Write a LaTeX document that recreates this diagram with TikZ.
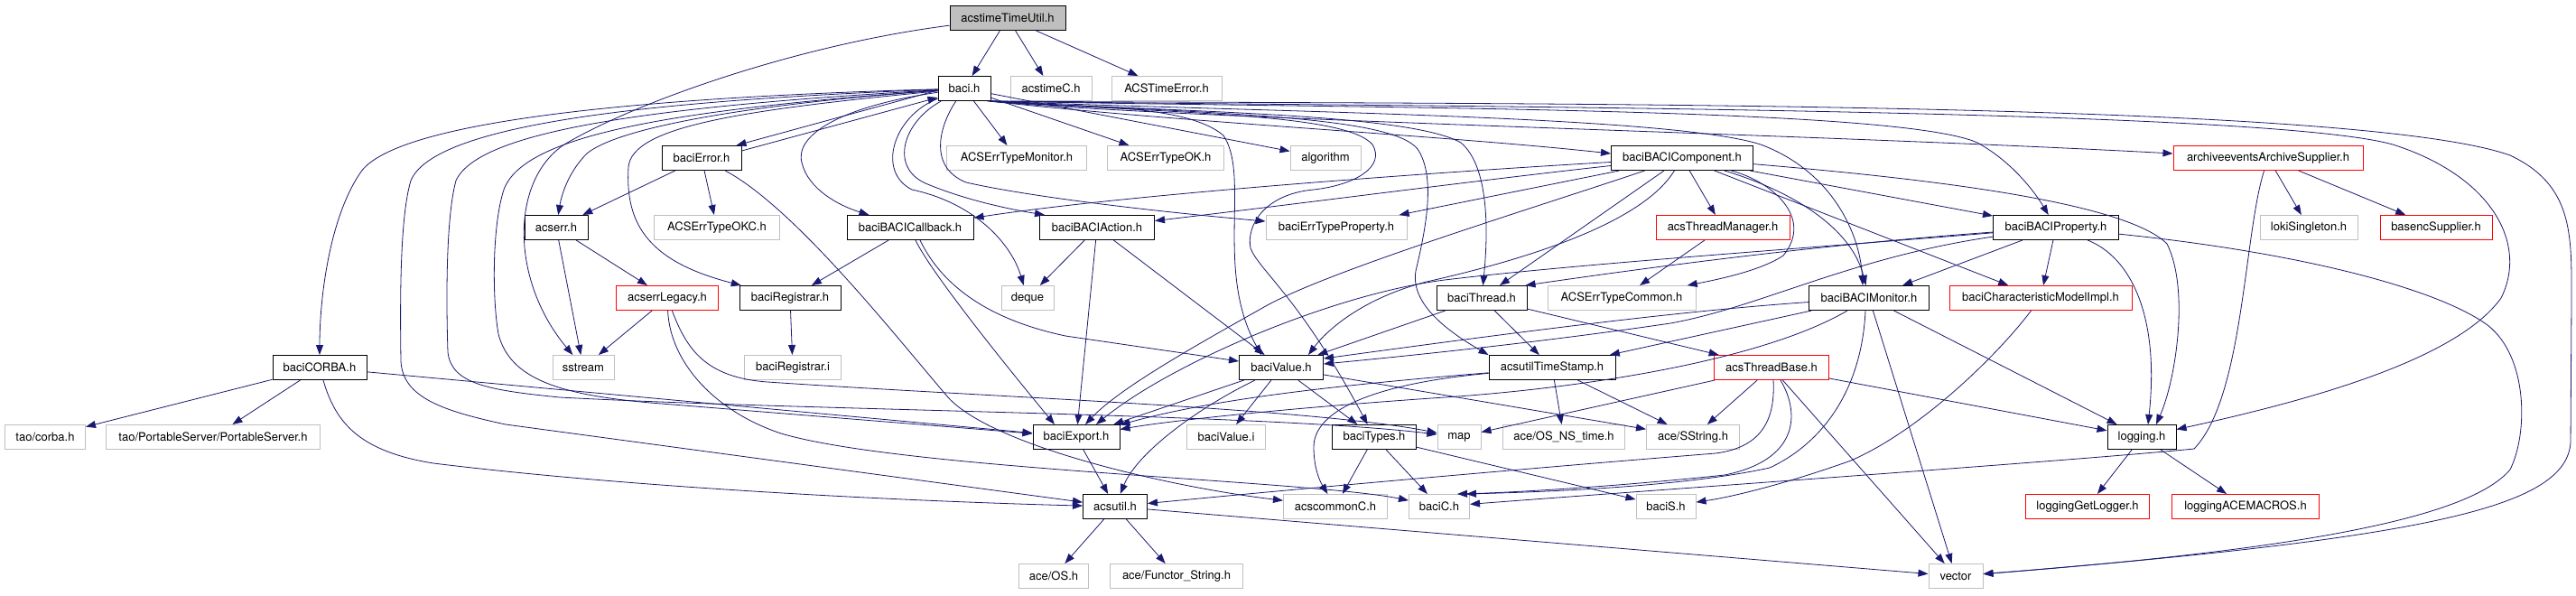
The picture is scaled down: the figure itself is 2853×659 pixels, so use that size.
\documentclass[tikz,border=0pt]{standalone}
\usepackage{fontspec}
\setmainfont{TeX Gyre Heros}
\usetikzlibrary{arrows.meta}
\definecolor{eb}{HTML}{191970}
\definecolor{gb}{HTML}{BFBFBF}
\begin{document}
\begin{tikzpicture}[x=1pt,y=-1pt,
  box/.style={draw=black, line width=1pt, fill=white, minimum height=27pt, inner sep=0pt, font=\fontsize{13}{15}\selectfont, text=black},
  ext/.style={box, draw=gb},
  trunc/.style={box, draw=red},
  e/.style={draw=eb, line width=0.8pt, -{Triangle[length=11pt,width=8pt]}},
]
\useasboundingbox[fill=white] (0,0) rectangle (2853,659);
% nodes
\node[box,fill=gb,minimum width=128pt] (root) at (1116,20) {acstimeTimeUtil.h};
\node[box,minimum width=58pt] (bacih) at (1068,98) {baci.h};
\node[ext,minimum width=90pt] (acstimeC) at (1164,98) {acstimeC.h};
\node[ext,minimum width=122pt] (ACSTimeError) at (1292,98) {ACSTimeError.h};
\node[box,minimum width=88pt] (baciError) at (777,175) {baciError.h};
\node[ext,minimum width=155pt] (ACSErrTypeMonitor) at (1126,175) {ACSErrTypeMonitor.h};
\node[ext,minimum width=129pt] (ACSErrTypeOK) at (1291,175) {ACSErrTypeOK.h};
\node[ext,minimum width=78pt] (algorithm) at (1468,175) {algorithm};
\node[box,minimum width=157pt] (baciBACIComponent) at (1863,175) {baciBACIComponent.h};
\node[trunc,minimum width=210pt] (archive) at (2512,175) {archiveeventsArchiveSupplier.h};
\node[box,minimum width=70pt] (acserr) at (616,252) {acserr.h};
\node[ext,minimum width=139pt] (ACSErrTypeOKC) at (794,252) {ACSErrTypeOKC.h};
\node[box,minimum width=140pt] (baciBACICallback) at (1008,252) {baciBACICallback.h};
\node[box,minimum width=127pt] (baciBACIAction) at (1215,252) {baciBACIAction.h};
\node[ext,minimum width=156pt] (baciErrTypeProperty) at (1480,252) {baciErrTypeProperty.h};
\node[trunc,minimum width=148pt] (acsThreadManager) at (1908,252) {acsThreadManager.h};
\node[box,minimum width=139pt] (baciBACIProperty) at (2277,252) {baciBACIProperty.h};
\node[ext,minimum width=108pt] (lokiSingleton) at (2557,252) {lokiSingleton.h};
\node[trunc,minimum width=124pt] (basencSupplier) at (2698,252) {basencSupplier.h};
\node[trunc,minimum width=113pt] (acserrLegacy) at (739,330) {acserrLegacy.h};
\node[box,minimum width=112pt] (baciRegistrar) at (875,330) {baciRegistrar.h};
\node[ext,minimum width=58pt] (deque) at (1138,330) {deque};
\node[box,minimum width=100pt] (baciThread) at (1641,330) {baciThread.h};
\node[ext,minimum width=164pt] (ACSErrTypeCommon) at (1796,330) {ACSErrTypeCommon.h};
\node[box,minimum width=133pt] (baciBACIMonitor) at (2070,330) {baciBACIMonitor.h};
\node[trunc,minimum width=202pt] (baciCharModel) at (2260,330) {baciCharacteristicModelImpl.h};
\node[box,minimum width=104pt] (baciCORBA) at (354,407) {baciCORBA.h};
\node[ext,minimum width=68pt] (sstream) at (646,407) {sstream};
\node[ext,minimum width=107pt] (baciRegistrari) at (878,407) {baciRegistrar.i};
\node[box,minimum width=93pt] (baciValue) at (1419,407) {baciValue.h};
\node[box,minimum width=140pt] (acsutilTimeStamp) at (1719,407) {acsutilTimeStamp.h};
\node[trunc,minimum width=127pt] (acsThreadBase) at (1962,407) {acsThreadBase.h};
\node[ext,minimum width=89pt] (taocorba) at (50,484) {tao/corba.h};
\node[ext,minimum width=237pt] (taoPS) at (236,484) {tao/PortableServer/PortableServer.h};
\node[box,minimum width=96pt] (baciExport) at (1192,484) {baciExport.h};
\node[ext,minimum width=87pt] (baciValuei) at (1358,484) {baciValue.i};
\node[box,minimum width=93pt] (baciTypes) at (1522,484) {baciTypes.h};
\node[ext,minimum width=48pt] (map) at (1616,484) {map};
\node[ext,minimum width=135pt] (aceOSNStime) at (1732,484) {ace/OS\_NS\_time.h};
\node[ext,minimum width=103pt] (aceSString) at (1875,484) {ace/SString.h};
\node[box,minimum width=76pt] (logging) at (2372,484) {logging.h};
\node[box,minimum width=71pt] (acsutil) at (1235,561) {acsutil.h};
\node[ext,minimum width=115pt] (acscommonC) at (1479,561) {acscommonC.h};
\node[ext,minimum width=67pt] (baciC) at (1594,561) {baciC.h};
\node[ext,minimum width=66pt] (baciS) at (1845,561) {baciS.h};
\node[trunc,minimum width=137pt] (loggingGetLogger) at (2312,561) {loggingGetLogger.h};
\node[trunc,minimum width=163pt] (loggingACEMACROS) at (2487,561) {loggingACEMACROS.h};
\node[ext,minimum width=77pt] (aceOS) at (1167,638) {ace/OS.h};
\node[ext,minimum width=147pt] (aceFunctor) at (1303,638) {ace/Functor\_String.h};
\node[ext,minimum width=60pt] (vector) at (2166,638) {vector};

% root
\draw[e] (root) -- (bacih);
\draw[e] (root) -- (acstimeC);
\draw[e] (root) -- (ACSTimeError);
\draw[e] (root) .. controls (880,50) and (700,115) .. (625,160) .. controls (565,200) and (565,310) .. (sstream);

% baci.h, left side
\draw[e] (bacih) .. controls (700,108) and (440,135) .. (400,190) .. controls (365,240) and (354,330) .. (baciCORBA);
\draw[e] (bacih) .. controls (700,112) and (480,140) .. (455,200) .. controls (443,240) and (443,330) .. (444,400) .. controls (446,440) and (490,455) .. (560,470) -- (acsutil);
\draw[e] (bacih) .. controls (720,118) and (530,145) .. (505,200) .. controls (494,240) and (494,330) .. (496,390) .. controls (500,425) and (540,432) .. (620,440) .. controls (900,455) and (1400,458) .. (map);
\draw[e] (bacih) .. controls (740,122) and (580,150) .. (558,210) .. controls (545,250) and (545,330) .. (552,370) .. controls (565,420) and (620,437) .. (720,446) -- (baciExport);
\draw[e] (bacih) .. controls (800,118) and (680,145) .. (650,170) .. controls (630,190) and (622,215) .. (acserr);
\draw[e] (bacih) .. controls (820,122) and (700,140) .. (696,185) .. controls (692,250) and (720,290) .. (baciRegistrar);
\draw[e] ([yshift=-2pt]bacih.west) -- ([xshift=-6pt]baciError.north east);
\draw[e] ([yshift=8pt]baciError.east) -- ([yshift=-10pt]bacih.west);
\draw[e] (bacih) .. controls (930,118) and (880,150) .. (888,180) .. controls (895,210) and (930,228) .. (baciBACICallback);
\draw[e] (bacih) .. controls (990,128) and (970,190) .. (1010,210) .. controls (1080,225) and (1120,270) .. (deque);
\draw[e] (bacih) .. controls (1000,135) and (985,185) .. (1025,203) .. controls (1070,222) and (1120,232) .. ([xshift=6pt]baciBACIAction.north west);
\draw[e] (bacih) .. controls (1040,140) and (1028,185) .. (1070,202) .. controls (1150,220) and (1300,236) .. (baciErrTypeProperty);
\draw[e] (bacih) -- (ACSErrTypeMonitor);
\draw[e] (bacih) -- (ACSErrTypeOK);
\draw[e] (bacih) -- (algorithm);

% baci.h, right side (all leave from the lower right corner, below acstimeC.h)
\draw[e] ([xshift=-1pt]bacih.south east) .. controls (1300,135) and (1600,150) .. ([yshift=5pt]baciBACIComponent.west);
\draw[e] ([xshift=-2pt]bacih.south east) .. controls (1300,124) and (1560,125) .. (1618,158) .. controls (1650,185) and (1648,260) .. (baciThread);
\draw[e] ([xshift=-4pt]bacih.south east) .. controls (1180,120) and (1310,112) .. (1355,150) .. controls (1385,195) and (1345,300) .. ([xshift=-22pt]baciValue.north);
\draw[e] ([xshift=-1pt]bacih.south east) .. controls (1300,126) and (1490,125) .. (1520,160) .. controls (1535,185) and (1500,205) .. (1455,210) .. controls (1400,215) and (1380,250) .. (1385,275) .. controls (1395,300) and (1440,330) .. (baciTypes);
\draw[e] ([xshift=-1pt]bacih.south east) .. controls (1350,126) and (1540,128) .. (1570,165) .. controls (1590,195) and (1580,250) .. (1568,300) .. controls (1562,335) and (1600,365) .. (acsutilTimeStamp.north west);
\draw[e] ([xshift=-1pt]bacih.south east) .. controls (1400,124) and (1850,128) .. (1950,160) .. controls (2030,190) and (2060,260) .. ([xshift=-7pt]baciBACIMonitor.north);
\draw[e] ([xshift=-1pt]bacih.south east) .. controls (1500,120) and (2100,118) .. (2190,158) .. controls (2230,180) and (2255,215) .. (baciBACIProperty);
\draw[e] ([xshift=-1pt]bacih.south east) .. controls (1300,132) and (2000,148) .. ([yshift=5pt]archive.west);
\draw[e] ([xshift=-1pt]bacih.south east) .. controls (1500,118) and (2500,118) .. (2650,160) .. controls (2760,195) and (2800,270) .. (2770,330) .. controls (2720,400) and (2550,445) .. (logging);
\draw[e] ([xshift=-1pt]bacih.south east) .. controls (1600,116) and (2600,108) .. (2780,172) .. controls (2850,205) and (2848,260) .. (2848,330) -- (2847,490) .. controls (2842,560) and (2700,595) .. (vector);

% baciError
\draw[e] (baciError) -- (acserr);
\draw[e] (baciError) -- (ACSErrTypeOKC);
\draw[e] (baciError) .. controls (880,230) and (990,370) .. (1050,440) .. controls (1100,495) and (1300,540) .. (acscommonC);

% acserr, acserrLegacy
\draw[e] (acserr) -- (sstream);
\draw[e] (acserr) -- (acserrLegacy);
\draw[e] (acserrLegacy) -- (sstream);
\draw[e] (acserrLegacy) .. controls (760,385) and (780,418) .. (850,423) .. controls (1100,440) and (1450,452) .. (map);
\draw[e] (acserrLegacy) .. controls (742,400) and (790,455) .. (865,480) .. controls (1000,520) and (1450,532) .. (baciC);

% registrar, callback, action
\draw[e] (baciRegistrar) -- (baciRegistrari);
\draw[e] (baciBACICallback) -- (baciRegistrar);
\draw[e] ([xshift=6pt]baciBACICallback.south) .. controls (1030,300) and (1110,400) .. ([xshift=-24pt]baciExport.north);
\draw[e] ([xshift=11pt]baciBACICallback.south) .. controls (1045,320) and (1100,355) .. (1180,372) -- ([yshift=7pt]baciValue.west);
\draw[e] (baciBACIAction) -- (deque);
\draw[e] (baciBACIAction) -- (baciExport);
\draw[e] (baciBACIAction) -- (baciValue);

% baciCORBA
\draw[e] (baciCORBA) -- (taocorba);
\draw[e] (baciCORBA) -- (taoPS);
\draw[e] (baciCORBA) -- (baciExport);
\draw[e] (baciCORBA) .. controls (372,470) and (400,500) .. (480,513) .. controls (700,540) and (1000,555) .. (acsutil);

% baciValue, baciExport, acsutil, baciTypes
\draw[e] (baciValue) -- (baciExport);
\draw[e] (baciValue) -- (baciValuei);
\draw[e] (baciValue) -- (baciTypes);
\draw[e] (baciValue) .. controls (1330,450) and (1260,500) .. (acsutil);
\draw[e] (baciValue) -- (aceSString);
\draw[e] (baciExport) -- (acsutil);
\draw[e] (acsutil) -- (aceOS);
\draw[e] (acsutil) -- (aceFunctor);
\draw[e] (acsutil) -- (vector);
\draw[e] (baciTypes) -- (acscommonC);
\draw[e] (baciTypes) -- (baciC);
\draw[e] (baciTypes) -- (baciS);

% baciThread, acsutilTimeStamp, acsThreadBase
\draw[e] (baciThread) -- (baciValue);
\draw[e] (baciThread) -- (acsutilTimeStamp);
\draw[e] (baciThread) -- (acsThreadBase);
\draw[e] (acsutilTimeStamp) -- (aceOSNStime);
\draw[e] (acsutilTimeStamp) -- (aceSString);
\draw[e] (acsutilTimeStamp) .. controls (1520,425) and (1455,455) .. (1455,495) .. controls (1455,515) and (1460,530) .. (acscommonC);
\draw[e] (acsutilTimeStamp) .. controls (1500,425) and (1350,440) .. (baciExport);
\draw[e] (acsThreadBase) -- (map);
\draw[e] (acsThreadBase) -- (aceSString);
\draw[e] (acsThreadBase) -- (logging);
\draw[e] ([xshift=2pt]acsThreadBase.south) .. controls (1966,460) and (1955,495) .. (1900,502) .. controls (1650,522) and (1400,545) .. (acsutil);
\draw[e] ([xshift=10pt]acsThreadBase.south) .. controls (1995,460) and (1990,510) .. (1910,526) .. controls (1780,540) and (1660,546) .. ([xshift=20pt]baciC.north);
\draw[e] (acsThreadBase) -- (vector);
\draw[e] (acsThreadManager) -- (ACSErrTypeCommon);

% baciBACIComponent
\draw[e] (baciBACIComponent) .. controls (1600,190) and (1250,215) .. (baciBACICallback);
\draw[e] (baciBACIComponent) .. controls (1650,198) and (1420,228) .. (baciBACIAction);
\draw[e] (baciBACIComponent) -- (baciErrTypeProperty);
\draw[e] (baciBACIComponent) -- (baciThread);
\draw[e] (baciBACIComponent) .. controls (1820,245) and (1700,285) .. (1580,312) .. controls (1510,330) and (1470,365) .. ([xshift=30pt]baciValue.north);
\draw[e] (baciBACIComponent) .. controls (1700,230) and (1470,300) .. (1400,340) .. controls (1320,385) and (1240,430) .. ([xshift=10pt]baciExport.north);
\draw[e] (baciBACIComponent) -- (acsThreadManager);
\draw[e] (baciBACIComponent) .. controls (1960,200) and (2010,240) .. (1975,283) .. controls (1950,300) and (1900,310) .. (ACSErrTypeCommon);
\draw[e] (baciBACIComponent) .. controls (1980,210) and (2050,250) .. (baciBACIMonitor);
\draw[e] (baciBACIComponent) -- (baciCharModel);
\draw[e] (baciBACIComponent) -- (baciBACIProperty);
\draw[e] (baciBACIComponent) .. controls (2100,195) and (2350,220) .. (2400,270) .. controls (2425,320) and (2410,420) .. ([xshift=16pt]logging.north);

% baciBACIMonitor
\draw[e] (baciBACIMonitor) .. controls (1850,345) and (1650,372) .. ([yshift=10pt]baciValue.east);
\draw[e] (baciBACIMonitor) -- (acsutilTimeStamp);
\draw[e] (baciBACIMonitor) .. controls (1950,400) and (1750,430) .. (1600,440) .. controls (1450,450) and (1300,465) .. (baciExport);
\draw[e] (baciBACIMonitor) -- (logging);
\draw[e] (baciBACIMonitor) -- (vector);
\draw[e] ([xshift=-4pt]baciBACIMonitor.south) .. controls (2062,430) and (2020,490) .. (1960,518) .. controls (1860,540) and (1700,545) .. ([xshift=-4pt]baciC.north east);

% baciBACIProperty
\draw[e] (baciBACIProperty) .. controls (2000,272) and (1800,300) .. ([xshift=-2pt]baciThread.north east);
\draw[e] (baciBACIProperty) -- (baciBACIMonitor);
\draw[e] (baciBACIProperty) -- (baciCharModel);
\draw[e] (baciBACIProperty) .. controls (2360,285) and (2392,350) .. ([xshift=7pt]logging.north);
\draw[e] (baciBACIProperty) .. controls (2550,280) and (2700,320) .. (2755,360) .. controls (2800,395) and (2800,480) .. (2780,520) .. controls (2730,580) and (2500,612) .. (vector);
\draw[e] (baciBACIProperty) .. controls (2050,285) and (1950,340) .. (1850,358) .. controls (1700,380) and (1550,395) .. ([yshift=4pt]baciValue.east);
\draw[e] (baciBACIProperty) .. controls (2000,275) and (1750,292) .. (1600,310) .. controls (1480,325) and (1300,400) .. ([xshift=22pt]baciExport.north);

% others
\draw[e] (baciCharModel) .. controls (2215,390) and (2130,475) .. (2050,510) .. controls (1980,535) and (1920,550) .. (baciS);
\draw[e] (archive) -- (lokiSingleton);
\draw[e] (archive) -- (basencSupplier);
\draw[e] (archive) .. controls (2485,260) and (2485,440) .. (2430,497) .. controls (2300,510) and (1800,545) .. (baciC);
\draw[e] (logging) -- (loggingGetLogger);
\draw[e] (logging) -- (loggingACEMACROS);
\end{tikzpicture}
\end{document}
